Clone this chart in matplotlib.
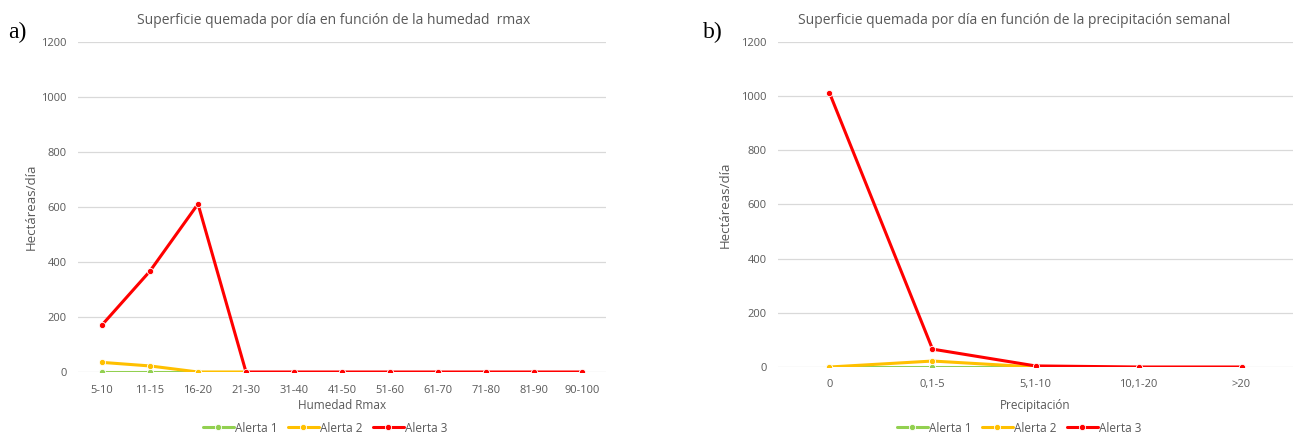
import matplotlib
matplotlib.use("Agg")
import matplotlib.pyplot as plt

plt.rcParams['font.family'] = ['Open Sans', 'DejaVu Sans']

# Panel a) data
hum_cats = ["5-10", "11-15", "16-20", "21-30", "31-40", "41-50", "51-60", "61-70", "71-80", "81-90", "90-100"]
hum_alerta1 = [0, 0, 0, 0, None, None, None, None, None, None, None]
hum_alerta2 = [35, 22, 0, 0, None, None, None, None, None, None, None]
hum_alerta3 = [171, 367, 611, 0, 0, 0, 0, 0, 0, 0, 0]

# Panel b) data
prec_cats = ["0", "0,1-5", "5,1-10", "10,1-20", ">20"]
prec_alerta1 = [0, 0, 0, None, None]
prec_alerta2 = [0, 22, 0, None, None]
prec_alerta3 = [1012, 66, 4, 0, 0]

series_names = ["Alerta 1", "Alerta 2", "Alerta 3"]
colors = ["#92D050", "#FFC000", "#FF0000"]
yticks = [0, 200, 400, 600, 800, 1000, 1200]

TXT = "#595959"
GRID = "#D9D9D9"

fig = plt.figure(figsize=(12.95, 4.37), dpi=100)
W, H = 1295, 437

def fx(px):
    return px / W

def fy(py):
    return 1 - py / H

axA = fig.add_axes([fx(78), fy(372), fx(606 - 78), (372 - 42) / H])
axB = fig.add_axes([fx(778), fy(367), fx(1293 - 778), (367 - 42) / H])

def style(ax, cats, series, xlabel, xpad, ylab_x, xlab_y):
    x = list(range(len(cats)))
    handles = []
    for name, col, vals in zip(series_names, colors, series):
        xs = [xi for xi, v in zip(x, vals) if v is not None]
        ys = [v for v in vals if v is not None]
        h, = ax.plot(xs, ys, color=col, lw=2.2, marker='o', ms=4.5,
                     mfc=col, mec='white', mew=0.6, solid_capstyle='round',
                     label=name, zorder=3)
        handles.append(h)
    ax.set_xlim(-0.5, len(cats) - 0.5)
    ax.set_ylim(0, 1200)
    ax.set_yticks(yticks)
    ax.set_xticks(x)
    ax.set_xticklabels(cats)
    ax.grid(axis='y', color=GRID, lw=0.9)
    ax.set_axisbelow(True)
    for s in ax.spines.values():
        s.set_visible(False)
    ax.tick_params(length=0, colors=TXT, labelsize=8)
    ax.tick_params(axis='y', pad=8)
    ax.tick_params(axis='x', pad=xpad)
    ax.set_xlabel(xlabel, color=TXT, fontsize=8.5)
    ax.set_ylabel("Hectáreas/día", color=TXT, fontsize=9.5)
    ax.yaxis.set_label_coords(ylab_x, 0.5)
    ax.xaxis.set_label_coords(0.5, xlab_y)
    return handles

hA = style(axA, hum_cats, [hum_alerta1, hum_alerta2, hum_alerta3], "Humedad Rmax",
           9.5, -40 / 528, -27 / 330)
hB = style(axB, prec_cats, [prec_alerta1, prec_alerta2, prec_alerta3], "Precipitación",
           8.5, -46 / 515, -32 / 325)

fig.text(fx(334), fy(20), "Superficie quemada por día en función de la humedad  rmax",
         ha='center', va='center', color=TXT, fontsize=10)
fig.text(fx(1014), fy(20), "Superficie quemada por día en función de la precipitación semanal",
         ha='center', va='center', color=TXT, fontsize=10)

fig.text(fx(8), fy(32), "a)", ha='left', va='center', fontsize=17,
         family=['Liberation Serif', 'DejaVu Serif'])
fig.text(fx(703), fy(32), "b)", ha='left', va='center', fontsize=17,
         family=['Liberation Serif', 'DejaVu Serif'])

for hs, cx in [(hA, 325), (hB, 1019)]:
    fig.legend(handles=hs, labels=series_names, loc='center', bbox_to_anchor=(fx(cx), fy(428)),
               ncol=3, frameon=False, fontsize=8.5, labelcolor=TXT, handlelength=2.6,
               handletextpad=0.1, columnspacing=0.9, borderaxespad=0, borderpad=0)

fig.savefig("out.png", dpi=100)
